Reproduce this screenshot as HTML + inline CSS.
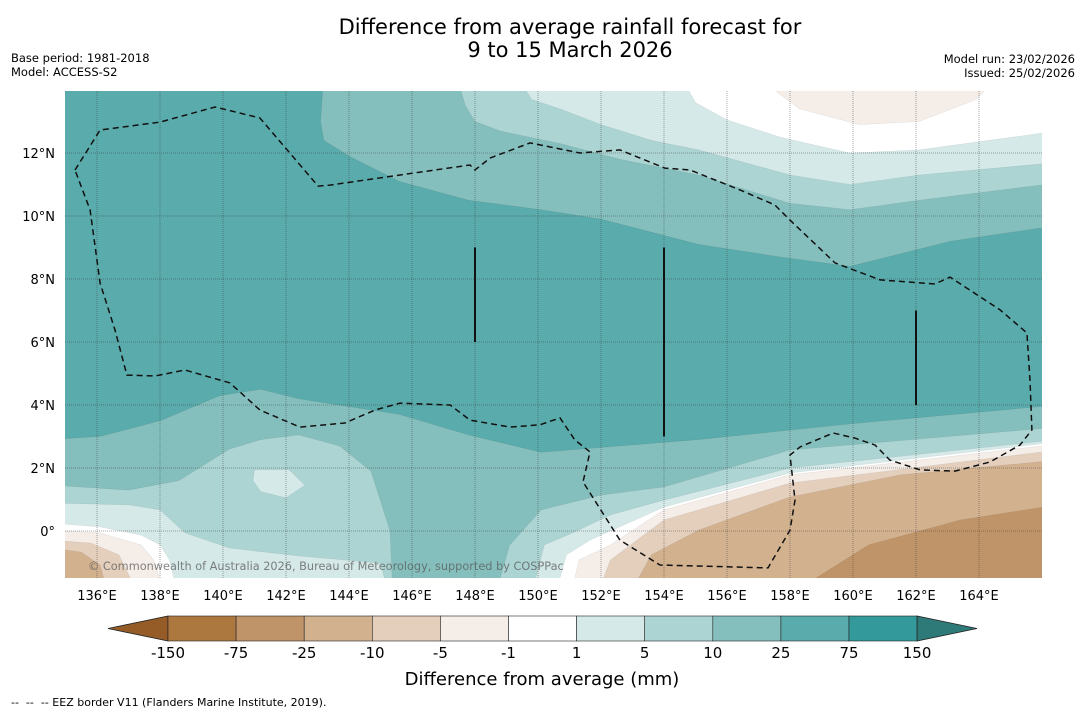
<!DOCTYPE html>
<html><head><meta charset="utf-8">
<style>
body{margin:0;background:#fff;}
svg text{font-family:"DejaVu Sans","Liberation Sans",sans-serif;}
</style></head>
<body>
<svg id="chart" width="1085" height="713" viewBox="0 0 1085 713" xmlns="http://www.w3.org/2000/svg">
<text x="570" y="34" font-size="21" text-anchor="middle">Difference from average rainfall forecast for</text>
<text x="570" y="57" font-size="21" text-anchor="middle">9 to 15 March 2026</text>
<text x="11" y="62" font-size="11.5">Base period: 1981-2018</text>
<text x="11" y="76" font-size="11.5">Model: ACCESS-S2</text>
<text x="1075" y="63" font-size="11.5" text-anchor="end">Model run: 23/02/2026</text>
<text x="1075" y="77" font-size="11.5" text-anchor="end">Issued: 25/02/2026</text>
<defs><clipPath id="mapclip"><rect x="65" y="91" width="977" height="487"/></clipPath></defs>
<g id="map" clip-path="url(#mapclip)"></g>
<g id="axes"></g>
<g id="cbar"></g>
<text x="542" y="685" font-size="18" text-anchor="middle">Difference from average (mm)</text>
<text x="11" y="706" font-size="11" style="white-space:pre" xml:space="preserve">--  --  -- EEZ border V11 (Flanders Marine Institute, 2019).</text>
</svg>
<script>
const lonTicks=[136,138,140,142,144,146,148,150,152,154,156,158,160,162,164];
const latTicks=[0,2,4,6,8,10,12];
const cbarLabels=["-150","-75","-25","-10","-5","-1","1","5","10","25","75","150"];
const cbarColors=["#ad7740","#bf9468","#d2b18f","#e4cfbd","#f5ede8","#ffffff","#d5e9e8","#abd4d3","#85bfbd","#5aabab","#34999a"];
const baseColor="#5aabab";
const N1=[[143.2,14.5],[143.1,13.0],[143.2,12.4],[144.0,11.9],[145.6,11.1],[147.8,10.5],[150.1,10.2],[152.0,9.9],[155.1,9.1],[157.7,8.7],[159.9,8.4],[163.1,9.2],[166.5,9.7],[166.5,14.5]];
const N2=[[147.4,14.5],[147.7,13.5],[148.0,13.0],[148.8,12.7],[150.7,12.3],[152.6,11.8],[155.1,11.3],[158.0,10.4],[159.9,10.2],[162.1,10.5],[166.5,11.05],[166.5,14.5]];
const N3=[[149.3,14.5],[149.8,13.7],[150.7,13.4],[152.0,12.9],[153.6,12.4],[155.1,12.1],[158.0,11.3],[159.9,11.0],[162.1,11.3],[166.5,11.7],[166.5,14.5]];
const N4=[[154.5,14.5],[155.0,13.6],[156.0,13.05],[157.7,12.5],[159.9,12.0],[162.1,12.1],[166.5,12.7],[166.5,14.5]];
const T1=[[157.5,14.5],[157.5,14.0],[158.3,13.4],[160.2,12.9],[162.1,13.0],[163.9,13.7],[164.2,14.0],[164.2,14.5]];
const S1=[[134.5,2.9],[136.1,3.0],[138.0,3.5],[139.9,4.3],[141.2,4.5],[142.4,4.2],[145.6,3.7],[147.8,3.05],[150.1,2.5],[155.1,2.9],[159.9,3.4],[166.5,4.0],[166.5,-2.2],[134.5,-2.2]];
const S2=[[134.5,1.46],[137.0,1.3],[138.6,1.6],[140.2,2.6],[141.2,2.9],[142.4,3.05],[143.7,2.7],[144.7,1.9],[145.3,0.0],[145.4,-2.2],[148.6,-2.2],[149.1,-0.45],[150.1,0.67],[152.0,1.14],[154.0,1.4],[158.0,2.57],[166.5,3.3],[166.5,-2.2],[134.5,-2.2]];
const P1=[[141.0,1.95],[142.1,1.95],[142.6,1.45],[142.0,1.05],[141.2,1.25],[140.95,1.6]];
const S3L=[[134.5,0.89],[137.05,0.83],[138.0,0.67],[138.8,-0.06],[140.2,-0.54],[142.4,-0.79],[145.0,-1.02],[145.3,-2.2],[134.5,-2.2]];
const S3R=[[149.75,-2.2],[150.2,-0.44],[151.1,-0.06],[152.3,0.51],[154.0,0.98],[158.0,2.0],[166.5,2.9],[166.5,-2.2]];
const S4L=[[134.5,0.25],[136.1,0.13],[137.4,-0.13],[138.0,-0.44],[138.3,-0.92],[138.6,-2.2],[134.5,-2.2]];
const S4R=[[150.5,-2.2],[150.9,-0.76],[151.65,-0.29],[154.0,0.76],[158.0,1.84],[166.5,2.83],[166.5,-2.2]];
const S5L=[[134.5,0.03],[136.1,-0.06],[137.4,-0.44],[137.8,-0.92],[138.2,-2.2],[134.5,-2.2]];
const S5R=[[151.0,-2.2],[151.3,-0.92],[152.3,-0.44],[154.0,0.67],[158.0,1.78],[166.5,2.76],[166.5,-2.2]];
const S6L=[[134.5,-0.29],[135.8,-0.38],[136.7,-0.76],[137.4,-2.2],[134.5,-2.2]];
const S6R=[[151.8,-2.2],[152.3,-0.92],[154.0,0.35],[158.0,1.52],[166.5,2.57],[166.5,-2.2]];
const S7L=[[134.5,-0.54],[135.5,-0.67],[136.1,-1.08],[136.4,-2.2],[134.5,-2.2]];
const S7R=[[152.8,-2.2],[153.6,-0.76],[155.1,0.03],[158.0,1.08],[161.5,1.78],[166.5,2.25],[166.5,-2.2]];
const S8=[[157.7,-2.2],[160.5,-0.44],[163.4,0.35],[166.5,0.83],[166.5,-2.2]];
const eezLine=[[135.3,11.46],[136.1,12.73],[138.0,12.98],[139.75,13.46],[141.17,13.11],[143.02,10.95],[143.4,10.98],[145.62,11.3],[147.84,11.62],[148.0,11.46],[148.48,11.84],[149.75,12.32],[151.33,12.0],[152.6,12.1],[154.03,11.52],[154.83,11.46],[156.41,10.83],[157.52,10.35],[158.0,9.87],[159.43,8.51],[160.86,7.97],[162.6,7.84],[163.08,8.06],[164.67,7.02],[165.52,6.29],[165.62,4.79],[165.68,3.21],[165.3,2.73],[164.35,2.19],[163.24,1.9],[162.13,1.94],[161.17,2.25],[160.7,2.73],[160.06,2.95],[159.37,3.11],[158.32,2.67],[158.0,2.41],[158.16,0.98],[158.0,0.03],[157.3,-1.17],[153.87,-1.08],[152.6,-0.29],[151.43,1.56],[151.65,2.51],[151.17,2.89],[150.7,3.59],[150.06,3.37],[149.11,3.3],[147.84,3.52],[147.21,4.0],[145.62,4.06],[144.83,3.84],[143.87,3.43],[142.44,3.3],[141.17,3.84],[140.22,4.7],[138.79,5.11],[137.84,4.92],[136.95,4.95],[136.57,6.38],[136.1,7.87],[135.78,10.19],[135.3,11.46]];
const boundaryLines=[[148,9,6],[154,9,3],[162,7,4]];

const NS="http://www.w3.org/2000/svg";
const X=lon=>97+(lon-136)*31.5;
const Y=lat=>531-lat*31.5;
function mk(tag,parent,attrs){const e=document.createElementNS(NS,tag);for(const k in attrs)e.setAttribute(k,attrs[k]);parent.appendChild(e);return e;}
const map=document.getElementById('map');
const bg=mk('rect',map,{x:65,y:91,width:977,height:487,fill:baseColor});


const layers=[[N1,8,'north-10-25'],[N2,7,'north-5-10'],[N3,6,'north-1-5'],[N4,5,'north-near-zero'],[T1,4,'north-dry-patch'],
[S1,8,'south-10-25'],[S2,7,'south-5-10'],[P1,6,'south-1-5-patch'],[S3L,6,'southwest-1-5'],[S3R,6,'southeast-1-5'],
[S4L,5,'southwest-near-zero'],[S4R,5,'southeast-near-zero'],[S5L,4,'southwest-minus1-5'],[S5R,4,'southeast-minus1-5'],
[S6L,3,'southwest-minus5-10'],[S6R,3,'southeast-minus5-10'],[S7L,2,'southwest-minus10-25'],[S7R,2,'southeast-minus10-25'],[S8,1,'southeast-minus25-75']];
layers.forEach(([pts,ci,name])=>{
  const p=mk('polygon',map,{points:pts.map(q=>X(q[0]).toFixed(1)+','+Y(q[1]).toFixed(1)).join(' '),fill:cbarColors[ci],stroke:'rgba(0,0,0,0.08)','stroke-width':0.6});
  
  
});
lonTicks.forEach(l=>{const g=mk('line',map,{x1:X(l),x2:X(l),y1:91,y2:578,stroke:'rgba(60,60,60,0.45)','stroke-width':1,'stroke-dasharray':'1,1'});
  
  });
latTicks.forEach(l=>{const g=mk('line',map,{x1:65,x2:1042,y1:Y(l),y2:Y(l),stroke:'rgba(60,60,60,0.45)','stroke-width':1,'stroke-dasharray':'1,1'});
  
  });
const eez=mk('polyline',map,{points:eezLine.map(q=>X(q[0]).toFixed(1)+','+Y(q[1]).toFixed(1)).join(' '),fill:'none',stroke:'#111','stroke-width':1.5,'stroke-dasharray':'6,4'});


boundaryLines.forEach(b=>{const l=mk('line',map,{x1:X(b[0]),x2:X(b[0]),y1:Y(b[1]),y2:Y(b[2]),stroke:'#111','stroke-width':2});
  
  });
const cp=mk('text',map,{x:88,y:570,'font-size':11.3,fill:'rgba(90,90,90,0.75)'});
cp.textContent='© Commonwealth of Australia 2026, Bureau of Meteorology, supported by COSPPac';



const axes=document.getElementById('axes');
lonTicks.forEach(l=>{const t=mk('text',axes,{x:X(l),y:600,'font-size':13,'text-anchor':'middle'});t.textContent=l+'°E';
  
  });
latTicks.forEach(l=>{const t=mk('text',axes,{x:55,y:Y(l)+5,'font-size':13,'text-anchor':'end'});t.textContent=l===0?'0°':l+'°N';
  
  });

const cb=document.getElementById('cbar');
const cx0=168,cw=68.1,cy=616,ch=25;
const la=mk('polygon',cb,{points:`${cx0},${cy} ${cx0},${cy+ch} 108,${cy+ch/2}`,fill:'#955c28',stroke:'#222','stroke-width':0.8});


cbarColors.forEach((c,i)=>{const r=mk('rect',cb,{x:cx0+i*cw,y:cy,width:cw,height:ch,fill:c,stroke:'#222','stroke-width':0.6});
  
  });
const xe=cx0+cbarColors.length*cw;
const ra=mk('polygon',cb,{points:`${xe},${cy} ${xe},${cy+ch} 977,${cy+ch/2}`,fill:'#2e7a78',stroke:'#222','stroke-width':0.8});


cbarLabels.forEach((s,i)=>{const t=mk('text',cb,{x:cx0+i*cw,y:658,'font-size':15,'text-anchor':'middle'});t.textContent=s;
  
  });
</script>
</body></html>
